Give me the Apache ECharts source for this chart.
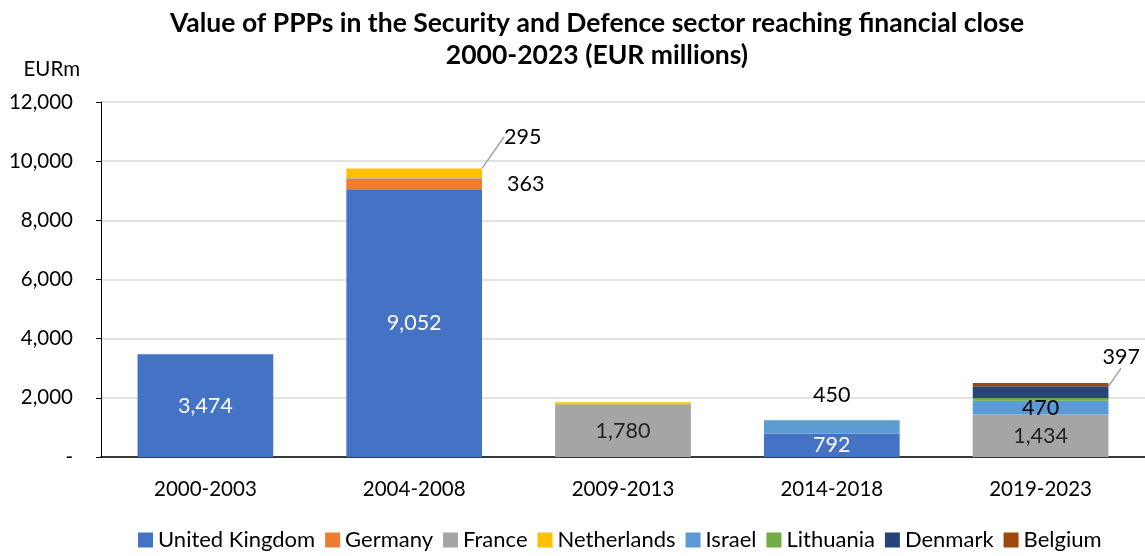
<!DOCTYPE html>
<html>
<head>
<meta charset="utf-8">
<script src="https://cdn.jsdelivr.net/npm/echarts@6/dist/echarts.min.js"></script>
<style>
  html, body { margin: 0; padding: 0; background: #fff; }
  #main { width: 1145px; height: 556px; }
</style>
</head>
<body>
<div id="main"></div>
<script>
var categories = ['2000-2003', '2004-2008', '2009-2013', '2014-2018', '2019-2023'];
var countries = ['United Kingdom', 'Germany', 'France', 'Netherlands', 'Israel', 'Lithuania', 'Denmark', 'Belgium'];
var uk          = [3474, 9052, 0, 792, 0];
var germany     = [0, 363, 0, 0, 0];
var france      = [0, 45, 1780, 0, 1434];
var netherlands = [0, 295, 70, 0, 0];
var israel      = [0, 0, 0, 450, 470];
var lithuania   = [0, 0, 0, 0, 90];
var denmark     = [0, 0, 0, 0, 397];
var belgium     = [0, 0, 0, 0, 110];
var colors = ['#4472C4', '#ED7D31', '#A5A5A5', '#FFC000', '#5B9BD5', '#70AD47', '#264478', '#9E480E'];

var FONT = 'Lato';
var fmt = function (v) { return v.toLocaleString('en-US'); };

// which points carry a label, and how
var labelled = {
	'United Kingdom': { idx: [0, 1, 3], position: 'inside', color: '#fff' },
	'Germany': { idx: [1], position: 'right', distance: 25, color: '#000' },
	'France': { idx: [2, 4], position: 'inside', color: '#222' },
	'Netherlands': { idx: [1], position: 'right', distance: 22, color: '#000', dy: -36, line: true },
	'Israel': { idx: [3, 4], position: 'inside', color: '#000' },
	'Denmark': { idx: [4], position: 'right', distance: 0, color: '#000', dx: -6, dy: -35, line: true }
};

var seriesData = [uk, germany, france, netherlands, israel, lithuania, denmark, belgium];

var series = countries.map(function (name, s) {
	var cfg = labelled[name];
	var data = seriesData[s].map(function (v, i) {
		var item = { value: v };
		if (cfg && cfg.idx.indexOf(i) >= 0) {
			var pos = cfg.position;
			var dist = cfg.distance || 0;
			if (name === 'Israel' && i === 3) { pos = 'top'; dist = 14; }
			item.label = { show: true, position: pos, distance: dist, color: cfg.color };
		}
		return item;
	});
	var ser = {
		name: name,
		type: 'bar',
		stack: 'total',
		barWidth: '65%',
		itemStyle: { color: colors[s] },
		label: {
			show: false,
			fontFamily: FONT,
			fontSize: 21.5,
			formatter: function (p) { return fmt(p.value); }
		},
		emphasis: { disabled: true },
		data: data
	};
	if (cfg && cfg.line) {
		ser.labelLayout = function () { return { dx: cfg.dx || 0, dy: cfg.dy || 0 }; };
		ser.labelLine = { show: true, lineStyle: { color: '#A5A5A5', width: 1.5 } };
	}
	return ser;
});

var myChart = echarts.init(document.getElementById('main'));
var option = {
	animation: false,
	color: colors,
	title: {
		text: 'Value of PPPs in the Security and Defence sector reaching financial close\n2000-2023 (EUR millions)',
		left: 592,
		textAlign: 'center',
		top: 2,
		textStyle: { fontFamily: FONT, fontWeight: 'bold', fontSize: 26.5, lineHeight: 32, color: '#000' }
	},
	legend: {
		top: 524,
		left: 133,
		itemWidth: 15,
		itemHeight: 15,
		itemGap: 10,
		icon: 'rect',
		textStyle: { fontFamily: FONT, fontSize: 22, color: '#000' },
		data: countries
	},
	grid: { left: 101, right: 0, top: 102, bottom: 99, containLabel: false },
	xAxis: {
		type: 'category',
		data: categories,
		axisLine: { lineStyle: { color: '#000', width: 1.5 } },
		axisTick: { show: false },
		axisLabel: { fontFamily: FONT, fontSize: 20.5, color: '#000', margin: 22 }
	},
	yAxis: {
		type: 'value',
		name: 'EURm',
		nameLocation: 'end',
		nameGap: 22,
		nameTextStyle: { fontFamily: FONT, fontSize: 20.5, color: '#000', align: 'right', padding: [0, 21, 0, 0] },
		min: 0,
		max: 12000,
		interval: 2000,
		axisLine: { show: true, lineStyle: { color: '#000', width: 1 } },
		axisTick: { show: true, length: 5, lineStyle: { color: '#000' } },
		splitLine: { lineStyle: { color: '#D9D9D9', width: 1.5 } },
		axisLabel: {
			fontFamily: FONT, fontSize: 20.5, color: '#000', margin: 28,
			formatter: function (v) { return v === 0 ? '-' : fmt(v); }
		}
	},
	series: series
};
myChart.setOption(option);
</script>
</body>
</html>
